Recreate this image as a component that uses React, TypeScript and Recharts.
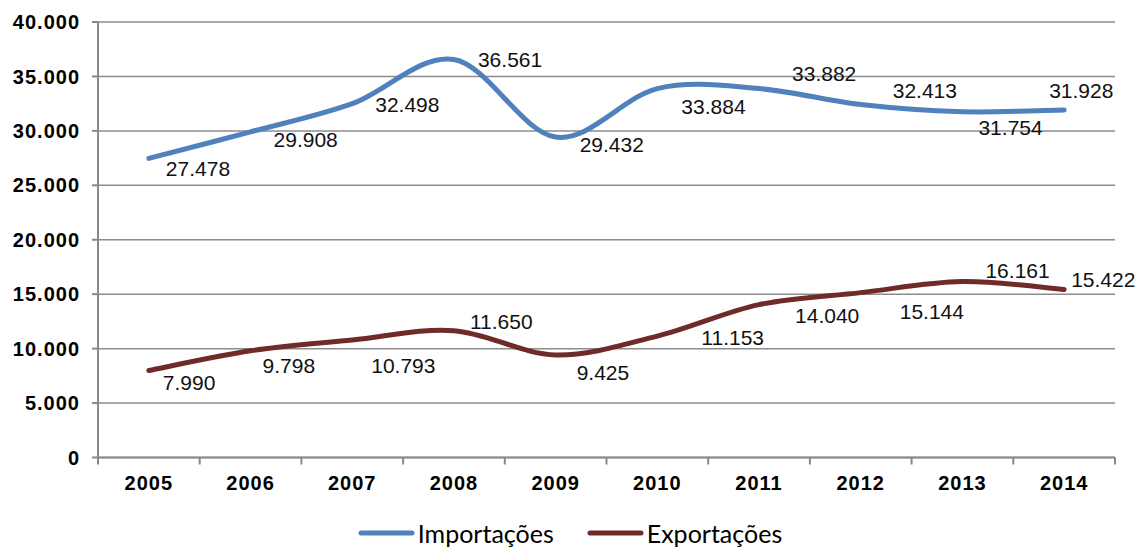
import React from "react";
import {
  LineChart,
  Line,
  XAxis,
  YAxis,
  CartesianGrid,
  Legend,
  LabelList,
} from "recharts";

// Values
const years = ["2005", "2006", "2007", "2008", "2009", "2010", "2011", "2012", "2013", "2014"];
const importacoes = [27478, 29908, 32498, 36561, 29432, 33884, 33882, 32413, 31754, 31928];
const exportacoes = [7990, 9798, 10793, 11650, 9425, 11153, 14040, 15144, 16161, 15422];
const yTicks = [0, 5000, 10000, 15000, 20000, 25000, 30000, 35000, 40000];

// Label placement (dx to left edge, dy to baseline) relative to each point
const impLabelOffsets = [[17, 18], [23, 15], [23, 8], [24, 8], [24, 15], [24, 25], [33, -8], [32, -7], [16, 23], [-15, -12]];
const expLabelOffsets = [[14, 19], [12, 22], [19, 33], [16, -2], [21, 25], [44, 9], [36, 18], [39, 26], [23, -4], [7, -3]];

const data = years.map((year, i) => ({ year, imp: importacoes[i], exp: exportacoes[i] }));

const series = [
  { key: "imp", name: "Importações", color: "#4F81BD", offsets: impLabelOffsets },
  { key: "exp", name: "Exportações", color: "#6F2A2A", offsets: expLabelOffsets },
];

const WIDTH = 1140;
const HEIGHT = 547;
const MARGIN = { top: 22, right: 25, bottom: 0, left: 0 };
const Y_AXIS_WIDTH = 98;
const X_AXIS_HEIGHT = 89.5;
const BAND = (WIDTH - MARGIN.right - MARGIN.left - Y_AXIS_WIDTH) / years.length;
const AXIS_COLOR = "#888888";

const fmt = (v: number) => String(v).replace(/\B(?=(\d{3})+(?!\d))/g, ".");

// Excel-like smoothed line (Catmull-Rom as cubic Bezier)
function excelSmooth(context: any) {
  let pts: number[][] = [];
  return {
    areaStart() {},
    areaEnd() {},
    lineStart() {
      pts = [];
    },
    point(x: number, y: number) {
      pts.push([+x, +y]);
    },
    lineEnd() {
      const n = pts.length;
      if (!n) return;
      context.moveTo(pts[0][0], pts[0][1]);
      for (let i = 0; i < n - 1; i++) {
        const p0 = pts[Math.max(0, i - 1)];
        const p1 = pts[i];
        const p2 = pts[i + 1];
        const p3 = pts[Math.min(n - 1, i + 2)];
        context.bezierCurveTo(
          p1[0] + (p2[0] - p0[0]) / 6,
          p1[1] + (p2[1] - p0[1]) / 6,
          p2[0] - (p3[0] - p1[0]) / 6,
          p2[1] - (p3[1] - p1[1]) / 6,
          p2[0],
          p2[1]
        );
      }
    },
  };
}

const XTick = (props: any) => {
  const { x, y, payload, index } = props;
  const isLast = index === years.length - 1;
  return (
    <g>
      <line x1={x - BAND / 2} y1={y} x2={x - BAND / 2} y2={y + 7} stroke={AXIS_COLOR} strokeWidth={2} />
      {isLast && (
        <line x1={x + BAND / 2} y1={y} x2={x + BAND / 2} y2={y + 7} stroke={AXIS_COLOR} strokeWidth={2} />
      )}
      <text
        x={x}
        y={y + 32.5}
        textAnchor="middle"
        fontFamily="'Liberation Sans', Arial, sans-serif"
        fontWeight="bold"
        fontSize={20}
        letterSpacing={1}
        fill="#000"
      >
        {payload.value}
      </text>
    </g>
  );
};

const makeLabel = (offsets: number[][]) => (props: any) => {
  const { x, y, value, index } = props;
  const [dx, dy] = offsets[index] || [0, 0];
  return (
    <text
      x={x + dx}
      y={y + dy}
      textAnchor="start"
      fontFamily="'Liberation Sans', Arial, sans-serif"
      fontSize={21}
      fill="#111"
    >
      {fmt(value)}
    </text>
  );
};

const LegendContent = () => (
  <div
    style={{
      display: "flex",
      justifyContent: "center",
      alignItems: "center",
      fontFamily: "Lato, sans-serif",
      fontSize: 25,
      color: "#000",
      lineHeight: "24px",
    }}
  >
    {series.map((s, i) => (
      <div key={s.key} style={{ display: "flex", alignItems: "center", marginRight: i === 0 ? 33 : 0 }}>
        <svg width={57} height={8}>
          <line x1={3} y1={4} x2={54} y2={4} stroke={s.color} strokeWidth={5} strokeLinecap="round" />
        </svg>
        <span style={{ marginLeft: 3 }}>{s.name}</span>
      </div>
    ))}
  </div>
);

export default function App() {
  return (
    <div style={{ position: "absolute", left: 0, top: 0, background: "#fff" }}>
      <LineChart width={WIDTH} height={HEIGHT} data={data} margin={MARGIN}>
        <CartesianGrid vertical={false} stroke="#8c8c8c" strokeWidth={1.5} />
        <XAxis
          dataKey="year"
          scale="band"
          height={X_AXIS_HEIGHT}
          axisLine={{ stroke: AXIS_COLOR, strokeWidth: 2 }}
          tickLine={false}
          tickSize={0}
          tickMargin={0}
          interval={0}
          tick={<XTick />}
        />
        <YAxis
          width={Y_AXIS_WIDTH}
          domain={[0, 40000]}
          ticks={yTicks}
          interval={0}
          tickFormatter={fmt}
          axisLine={{ stroke: AXIS_COLOR, strokeWidth: 2 }}
          tickLine={{ stroke: AXIS_COLOR, strokeWidth: 2 }}
          tickSize={6}
          tickMargin={12}
          tick={{
            fill: "#000",
            fontFamily: "'Liberation Sans', Arial, sans-serif",
            fontWeight: "bold",
            fontSize: 20,
            letterSpacing: 1,
          }}
        />
        <Legend
          layout="horizontal"
          verticalAlign="middle"
          align="center"
          wrapperStyle={{ top: 521, left: 0, width: WIDTH, height: 24 }}
          content={<LegendContent />}
        />
        {series.map((s) => (
          <Line
            key={s.key}
            dataKey={s.key}
            name={s.name}
            type={excelSmooth as any}
            stroke={s.color}
            strokeWidth={5}
            strokeLinecap="round"
            dot={false}
            activeDot={false}
            isAnimationActive={false}
          >
            <LabelList dataKey={s.key} content={makeLabel(s.offsets)} />
          </Line>
        ))}
      </LineChart>
    </div>
  );
}
